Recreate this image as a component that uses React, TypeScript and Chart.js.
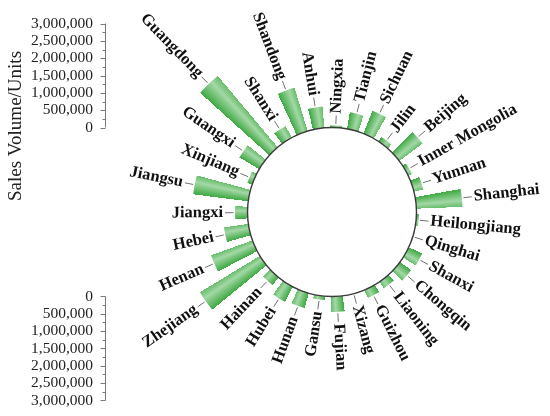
import React, { useEffect, useRef } from 'react';
import { Chart, registerables } from 'chart.js';

Chart.register(...registerables);

// Categories, clockwise starting just right of the top
const PROVINCES = [
  'Ningxia', 'Tianjin', 'Sichuan', 'Jilin', 'Beijing', 'Inner Mongolia', 'Yunnan', 'Shanghai',
  'Heilongjiang', 'Qinghai', 'Shanxi', 'Chongqin', 'Liaoning', 'Guizhou', 'Xizang', 'Fujian',
  'Gansu', 'Hunan', 'Hubei', 'Hainan', 'Zhejiang', 'Henan', 'Hebei', 'Jiangxi',
  'Jiangsu', 'Xinjiang', 'Guangxi', 'Guangdong', 'Shanxi', 'Shandong', 'Anhui',
];

// Sales volume (units)
const SALES = [
  60000, 487000, 707000, 153000, 834000, 115000, 272000, 1330000,
  70000, 20000, 427000, 396000, 222000, 245000, 10000, 447000,
  110000, 445000, 487000, 283000, 2020000, 1270000, 710000, 360000,
  1600000, 144000, 663000, 2690000, 375000, 1310000, 617000,
];

// Side axis tick values
const AXIS_TICKS = [0, 500000, 1000000, 1500000, 2000000, 2500000, 3000000];
const MINOR_TICKS = [250000, 750000, 1250000, 1750000, 2250000, 2750000];
const AXIS_TITLE = 'Sales Volume/Units';

// Radial scale range (negative min leaves the hollow centre)
const SCALE_MIN = -2437500;
const SCALE_MAX = 3677885;
const START_ANGLE = -3.3;

const SERIF = '"Liberation Serif", "Times New Roman", serif';

export default function App() {
  const ref = useRef<HTMLCanvasElement>(null);

  useEffect(() => {
    const canvas = ref.current;
    if (!canvas) return;

    let grad: CanvasGradient | null = null;
    let gradKey = '';
    const getGradient = (chart: any) => {
      const scale = chart.scales && chart.scales.r;
      if (!scale || !Number.isFinite(scale.xCenter) || !Number.isFinite(scale.yCenter)) return '#5cb85f';
      const a0 = scale.getIndexAngle(0);
      if (!Number.isFinite(a0)) return '#5cb85f';
      const key = `${scale.xCenter},${scale.yCenter},${a0}`;
      if (grad && key === gradKey) return grad;
      const ctx: CanvasRenderingContext2D = chart.ctx;
      const start = a0 - Math.PI / 2;
      const g = (ctx as any).createConicGradient(start, scale.xCenter, scale.yCenter) as CanvasGradient;
      const n = SALES.length;
      const w = 1 / n;
      const clear = 'rgba(255,255,255,0)';
      for (let i = 0; i < n; i++) {
        const a = i * w;
        g.addColorStop(a, clear);
        g.addColorStop(a + w * 0.16, clear);
        g.addColorStop(a + w * 0.16, '#3fa944');
        g.addColorStop(a + w * 0.6, '#a3d8a5');
        g.addColorStop(a + w * 0.84, '#68bd6c');
        g.addColorStop(a + w * 0.84, clear);
      }
      g.addColorStop(1, clear);
      grad = g;
      gradKey = key;
      return g;
    };

    const overlay = {
      id: 'overlay',
      afterDatasetsDraw(chart: any) {
        const ctx: CanvasRenderingContext2D = chart.ctx;
        const scale = chart.scales.r;
        const cx = scale.xCenter;
        const cy = scale.yCenter;
        const r0 = scale.getDistanceFromCenterForValue(0);

        ctx.save();
        // hollow centre + ring
        ctx.beginPath();
        ctx.arc(cx, cy, r0, 0, Math.PI * 2);
        ctx.fillStyle = '#ffffff';
        ctx.fill();
        ctx.lineWidth = 1.4;
        ctx.strokeStyle = '#3a3a3a';
        ctx.stroke();

        // category labels with leader lines
        const meta = chart.getDatasetMeta(0);
        ctx.font = `bold 16.5px ${SERIF}`;
        ctx.textBaseline = 'middle';
        meta.data.forEach((arc: any, i: number) => {
          const p = arc.getProps(['startAngle', 'endAngle', 'outerRadius'], true);
          const mid = (p.startAngle + p.endAngle) / 2;
          const c = Math.cos(mid);
          const s = Math.sin(mid);
          const ro = p.outerRadius;
          ctx.beginPath();
          ctx.moveTo(cx + c * (ro + 1.5), cy + s * (ro + 1.5));
          ctx.lineTo(cx + c * (ro + 10), cy + s * (ro + 10));
          ctx.lineWidth = 1;
          ctx.strokeStyle = '#707070';
          ctx.stroke();

          const d = ro + 12;
          ctx.save();
          ctx.translate(cx + c * d, cy + s * d);
          ctx.fillStyle = '#111111';
          if (c >= 0) {
            ctx.rotate(mid);
            ctx.textAlign = 'left';
          } else {
            ctx.rotate(mid + Math.PI);
            ctx.textAlign = 'right';
          }
          ctx.fillText(PROVINCES[i], 0, 0);
          ctx.restore();
        });
        ctx.restore();
      },
      afterDraw(chart: any) {
        const ctx: CanvasRenderingContext2D = chart.ctx;
        const scale = chart.scales.r;
        const cy = scale.yCenter;
        const axisX = 105;
        const dist = (v: number) => scale.getDistanceFromCenterForValue(v);
        const axisMax = AXIS_TICKS[AXIS_TICKS.length - 1];

        ctx.save();
        ctx.strokeStyle = '#7a7a7a';
        ctx.lineWidth = 1;
        ctx.fillStyle = '#222222';
        ctx.font = `15.5px ${SERIF}`;
        ctx.textAlign = 'right';
        ctx.textBaseline = 'middle';
        [-1, 1].forEach((dir) => {
          const yOf = (v: number) => cy + dir * dist(v);
          ctx.beginPath();
          ctx.moveTo(axisX + 0.5, yOf(0));
          ctx.lineTo(axisX + 0.5, yOf(axisMax));
          ctx.stroke();
          AXIS_TICKS.forEach((v) => {
            const y = Math.round(yOf(v)) + 0.5;
            ctx.beginPath();
            ctx.moveTo(axisX - 4.5, y);
            ctx.lineTo(axisX + 0.5, y);
            ctx.stroke();
            ctx.fillText(v.toLocaleString('en-US'), axisX - 12, yOf(v));
          });
          MINOR_TICKS.forEach((v) => {
            const y = Math.round(yOf(v)) + 0.5;
            ctx.beginPath();
            ctx.moveTo(axisX - 2.5, y);
            ctx.lineTo(axisX + 0.5, y);
            ctx.stroke();
          });
        });

        ctx.save();
        ctx.translate(16, 126);
        ctx.rotate(-Math.PI / 2);
        ctx.textAlign = 'center';
        ctx.textBaseline = 'middle';
        ctx.font = `19px ${SERIF}`;
        ctx.fillStyle = '#222222';
        ctx.fillText(AXIS_TITLE, 0, 0);
        ctx.restore();
        ctx.restore();
      },
    };

    const chart = new Chart(canvas, {
      type: 'polarArea',
      data: {
        labels: PROVINCES,
        datasets: [
          {
            data: SALES,
            backgroundColor: (c: any) => getGradient(c.chart),
            borderWidth: 0,
          },
        ],
      },
      options: {
        responsive: false,
        animation: false,
        events: [],
        layout: { padding: 0 },
        plugins: {
          legend: { display: false },
          tooltip: { enabled: false },
        },
        scales: {
          r: {
            min: SCALE_MIN,
            max: SCALE_MAX,
            beginAtZero: false,
            startAngle: START_ANGLE,
            ticks: { display: false },
            grid: { display: false },
            angleLines: { display: false },
            pointLabels: { display: false },
          },
        },
      },
      plugins: [overlay],
    } as any);

    return () => chart.destroy();
  }, []);

  return (
    <div
      style={{
        position: 'absolute',
        left: 0,
        top: 0,
        width: 550,
        height: 416,
        overflow: 'hidden',
        background: '#ffffff',
      }}
    >
      <canvas ref={ref} width={664} height={424} style={{ width: 664, height: 424, display: 'block' }} />
    </div>
  );
}
